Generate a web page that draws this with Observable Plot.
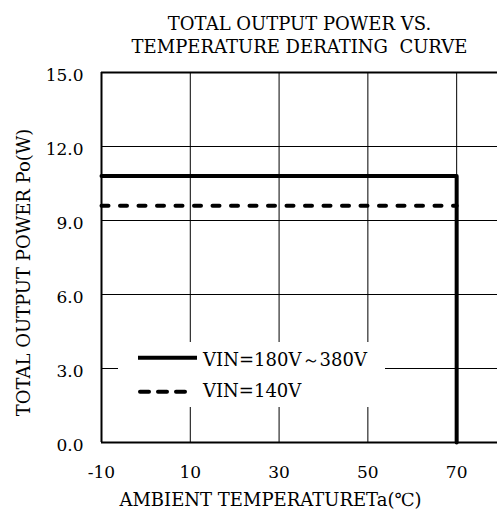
<!DOCTYPE html>
<html>
<head>
<meta charset="utf-8">
<script src="https://cdn.jsdelivr.net/npm/d3@7"></script>
<script src="https://cdn.jsdelivr.net/npm/@observablehq/plot@0.6"></script>
<style>
  html, body { margin: 0; padding: 0; background: #fff; }
  #wrap { position: relative; width: 497px; height: 509px; }
  #legend { position: absolute; left: 0; top: 0; pointer-events: none; }
</style>
</head>
<body>
<div id="wrap"></div>
<script>
const titleLines = ["TOTAL OUTPUT POWER VS.", "TEMPERATURE DERATING  CURVE"];
const xLabel = "AMBIENT TEMPERATURETa(℃)";
const yLabel = "TOTAL OUTPUT POWER Po(W)";
const xTicks = [-10, 10, 30, 50, 70];
const yTicks = [0, 3, 6, 9, 12, 15];
const xDomain = [-10, 79.2];
const yDomain = [0, 15];

const seriesNames = ["VIN=180V～380V", "VIN=140V"];
const solidTemp = [-10, 70, 70];
const solidPower = [10.8, 10.8, 0];
const dashedTemp = [-10, 70];
const dashedPower = [9.6, 9.6];

const solid = solidTemp.map((t, i) => ({t, p: solidPower[i]}));
const dashed = dashedTemp.map((t, i) => ({t, p: dashedPower[i]}));

const font = "DejaVu Serif, Liberation Serif, serif";

const chart = Plot.plot({
  width: 497,
  height: 509,
  marginLeft: 101,
  marginRight: 0,
  marginTop: 72,
  marginBottom: 67,
  style: {fontFamily: font, fontSize: "17px", color: "#000", background: "#fff"},
  x: {domain: xDomain},
  y: {domain: yDomain},
  marks: [
    Plot.gridX(xTicks.slice(1), {stroke: "#000", strokeOpacity: 1, strokeWidth: 1}),
    Plot.gridY(yTicks.slice(1, -1), {stroke: "#000", strokeOpacity: 1, strokeWidth: 1}),
    Plot.ruleY([yDomain[1]], {stroke: "#000", strokeWidth: 2}),
    Plot.ruleY([yDomain[0]], {stroke: "#000", strokeWidth: 2}),
    Plot.ruleX([xDomain[0]], {stroke: "#000", strokeWidth: 2}),
    Plot.line(dashed, {x: "t", y: "p", stroke: "#000", strokeWidth: 4, strokeDasharray: "7,11.5", strokeLinecap: "round"}),
    Plot.line(solid, {x: "t", y: "p", stroke: "#000", strokeWidth: 4}),
    Plot.axisX(xTicks, {tickSize: 0, tickPadding: 23, fontSize: 17, label: null, tickFormat: d => String(d)}),
    Plot.axisY(yTicks, {tickSize: 0, tickPadding: 18, dy: 3, fontSize: 17, label: null, tickFormat: d => d.toFixed(1)}),
    Plot.text([titleLines[0]], {frameAnchor: "top", lineAnchor: "bottom", dy: -43, fontSize: 18}),
    Plot.text([titleLines[1]], {frameAnchor: "top", lineAnchor: "bottom", dy: -20, fontSize: 18}),
    Plot.text([xLabel], {frameAnchor: "bottom", lineAnchor: "bottom", textAnchor: "middle", dy: 63, dx: -29, fontSize: 18, style: {letterSpacing: "0.5px"}}),
    Plot.text([yLabel], {frameAnchor: "left", lineAnchor: "bottom", textAnchor: "middle", dx: -72, dy: 15, rotate: -90, fontSize: 18})
  ]
});

const wrap = document.getElementById("wrap");
wrap.appendChild(chart);

// legend overlay
const leg = d3.create("svg").attr("id", "legend").attr("width", 497).attr("height", 509)
  .style("font-family", font).style("font-size", "18px");
leg.append("rect").attr("x", 118).attr("y", 342).attr("width", 267).attr("height", 65).attr("fill", "#fff");
const rows = [
  {lineY: 357.7, x1: 138, x2: 197, dash: null, cap: "butt", textY: 366},
  {lineY: 391.7, x1: 140, x2: 188, dash: "9,9", cap: "round", textY: 396.7}
];
seriesNames.forEach((name, i) => {
  const r = rows[i];
  leg.append("line").attr("x1", r.x1).attr("x2", r.x2).attr("y1", r.lineY).attr("y2", r.lineY)
    .attr("stroke", "#000").attr("stroke-width", 4)
    .attr("stroke-dasharray", r.dash).attr("stroke-linecap", r.cap);
  leg.append("text").attr("x", 203).attr("y", r.textY).attr("fill", "#000")
    .attr("textLength", i === 0 ? 164 : null).text(name);
});
wrap.appendChild(leg.node());
</script>
</body>
</html>
